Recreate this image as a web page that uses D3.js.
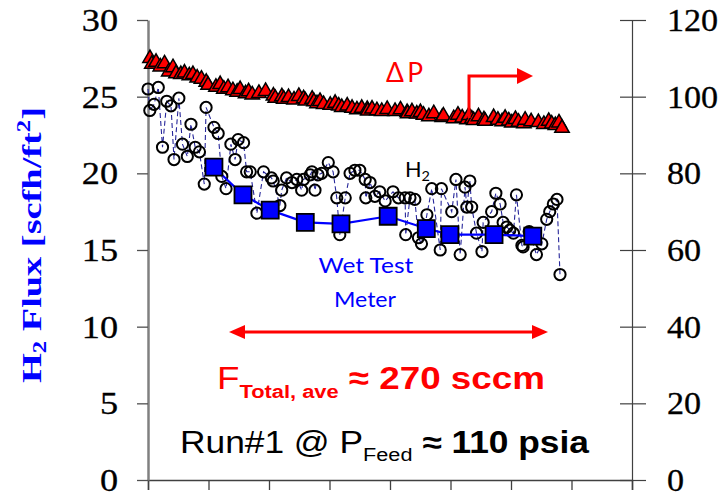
<!DOCTYPE html>
<html><head><meta charset="utf-8">
<script src="https://cdn.jsdelivr.net/npm/d3@7"></script>
<style>body{margin:0;background:#fff}svg{display:block}</style>
</head><body>
<svg id="c" width="722" height="497"></svg>
<script>
// ---------- data ----------
const xTicks = [0,1,2,3,4,5,6,7,8];
const leftTicks = [0,5,10,15,20,25,30];
const rightTicks = [0,20,40,60,80,100,120];

const h2Time = [0.00,0.03,0.10,0.17,0.24,0.31,0.38,0.43,0.51,0.57,
0.65,0.71,0.78,0.85,0.93,0.96,1.09,1.16,1.22,1.29,
1.37,1.44,1.49,1.58,1.63,1.69,1.80,1.91,2.04,2.07,
2.18,2.21,2.29,2.38,2.46,2.54,2.57,2.68,2.71,2.76,
2.81,2.87,2.98,3.06,3.12,3.17,3.26,3.34,3.42,3.50,
3.59,3.60,3.67,3.75,3.83,3.92,4.05,4.14,4.25,4.26,
4.33,4.41,4.47,4.52,4.61,4.69,4.83,4.85,5.02,5.09,
5.16,5.24,5.27,5.32,5.35,5.43,5.52,5.54,5.68,5.75,
5.82,5.87,5.93,5.98,6.04,6.09,6.18,6.20,6.30,6.42,
6.51,6.59,6.64,6.70,6.76,6.81];

const h2Flux = [25.5,24.1,24.5,25.6,21.7,24.7,24.4,20.9,24.9,21.9,
21.1,23.2,21.7,21.4,19.3,24.3,23.0,22.6,19.8,19.0,
21.9,20.9,22.2,22.0,20.1,20.1,17.4,20.1,19.7,19.5,
17.9,18.9,19.7,19.4,19.6,18.9,19.6,19.9,20.1,18.9,
19.9,20.0,20.7,20.1,18.4,16.0,18.4,20.0,20.2,20.2,
19.6,18.4,19.4,18.5,18.8,18.2,18.8,18.4,18.4,16.0,
18.4,18.3,15.8,15.4,17.3,19.0,15.0,19.0,17.5,19.6,
14.7,19.1,17.8,19.5,17.8,16.1,14.9,16.8,17.5,18.7,
18.0,16.8,16.5,16.3,16.1,18.6,15.3,15.2,16.2,14.7,
15.4,17.0,17.5,18.0,18.3,13.4];

const dP = [110.0,108.5,109.0,107.8,108.6,106.5,107.6,106.0,105.8,106.2,
105.5,105.8,104.9,104.6,103.8,103.0,102.5,103.2,102.0,102.4,
101.6,101.2,101.9,100.8,101.3,100.5,100.9,101.4,100.2,99.6,
100.0,99.4,99.8,99.2,100.1,99.5,98.9,99.4,98.7,98.2,
98.8,98.0,97.8,98.3,97.6,97.2,97.6,97.0,96.6,97.0,
96.7,96.3,96.8,96.4,96.2,96.7,96.2,96.6,95.9,95.6,
96.1,95.5,95.9,95.2,94.8,95.6,94.6,95.0,94.3,95.2,
94.5,94.0,95.1,94.2,93.8,94.8,94.0,93.6,94.6,93.9,
93.5,94.4,93.7,93.2,94.1,93.4,93.0,93.9,93.5,93.3,
92.8,93.6,92.9,92.5,93.2,91.8];

const wtmTime = [1.09,1.57,2.02,2.60,3.19,3.97,4.60,4.99,5.72,6.36];
const wtmFlux = [20.4,18.6,17.6,16.8,16.7,17.2,16.4,16.0,16.0,15.9];

// ---------- chart ----------
const svg = d3.select("#c");
const x = d3.scaleLinear().domain([0,8]).range([148,632]);
const yL = d3.scaleLinear().domain([0,30]).range([480,20]);
const yR = d3.scaleLinear().domain([0,120]).range([480,20]);

const serif = "'Liberation Serif','Times New Roman',serif";
const sans = "'Liberation Sans',Arial,sans-serif";
const cal = "Lato,'Open Sans',sans-serif";

function fit(t, left, baseline, target, anchor) {
  const w = t.node().getBBox().width;
  const s = target / w;
  let lx = left;
  if (anchor === "middle") lx = left - target/2;
  if (anchor === "end") lx = left - target;
  t.attr("transform", `translate(${lx},${baseline}) scale(${s},1)`);
}

// bottom axis
const gx = svg.append("g").attr("transform","translate(0,480)")
  .call(d3.axisBottom(x).tickValues(xTicks).tickSize(10).tickFormat(""));
gx.select(".domain").attr("stroke","#404040").attr("stroke-width",1.5);
gx.selectAll(".tick line").attr("stroke","#404040").attr("stroke-width",1.3);

// left axis
const gl = svg.append("g").attr("transform","translate(148,0)")
  .call(d3.axisLeft(yL).tickValues(leftTicks).tickSize(11).tickSizeOuter(0));
gl.select(".domain").attr("stroke","#808080").attr("stroke-width",2.5);
gl.selectAll(".tick line").attr("stroke","#505050").attr("stroke-width",1.3);
gl.selectAll(".tick text").attr("font-family",serif).attr("font-size",31)
  .attr("fill","#000").attr("x",0).attr("dy",0).attr("y",0)
  .attr("dominant-baseline","central").attr("stroke","#000").attr("stroke-width",0.3)
  .attr("transform","translate(-30,0) scale(1.17,1)");

// right axis
const gr = svg.append("g").attr("transform","translate(632,0)")
  .call(d3.axisRight(yR).tickValues(rightTicks).tickSize(14).tickSizeOuter(0));
gr.select(".domain").attr("stroke","#404040").attr("stroke-width",1.2);
gr.selectAll(".tick line").attr("x1",-12).attr("stroke","#404040").attr("stroke-width",1.2);
gr.selectAll(".tick text").attr("font-family",serif).attr("font-size",31)
  .attr("fill","#000").attr("x",0).attr("dy",0).attr("y",0)
  .attr("text-anchor","start").attr("dominant-baseline","central")
  .attr("stroke","#000").attr("stroke-width",0.3)
  .attr("transform","translate(35,0) scale(1.1,1)");

// H2 dashed connecting line + circles
const h2 = h2Time.map((t,i)=>({t, v:h2Flux[i]}));
svg.append("path").datum(h2)
  .attr("d", d3.line().x(d=>x(d.t)).y(d=>yL(d.v)))
  .attr("fill","none").attr("stroke","#26269a").attr("stroke-width",1.1)
  .attr("stroke-dasharray","5,3");
svg.append("g").selectAll("circle").data(h2).join("circle")
  .attr("cx",d=>x(d.t)).attr("cy",d=>yL(d.v)).attr("r",5.6)
  .attr("fill","none").attr("stroke","#000").attr("stroke-width",2);

// wet test meter
const wtm = wtmTime.map((t,i)=>({t, v:wtmFlux[i]}));
svg.append("path").datum(wtm)
  .attr("d", d3.line().x(d=>x(d.t)).y(d=>yL(d.v)))
  .attr("fill","none").attr("stroke","#0000ff").attr("stroke-width",2.2);
svg.append("g").selectAll("path").data(wtm).join("path")
  .attr("transform",d=>`translate(${x(d.t)},${yL(d.v)})`)
  .attr("d", d3.symbol(d3.symbolSquare, 289)())
  .attr("fill","#0000ff").attr("stroke","#000").attr("stroke-width",1.8);

// delta P triangles
const dp = h2Time.map((t,i)=>({t, v:dP[i]}));
svg.append("g").selectAll("path").data(dp).join("path")
  .attr("transform",d=>`translate(${x(d.t)+2},${yR(d.v)})`)
  .attr("d", d3.symbol(d3.symbolTriangle, 90)())
  .attr("fill","#ff0000").attr("stroke","#000").attr("stroke-width",1.5);

// y title
const yt = svg.append("text").attr("font-family",serif).attr("font-weight","bold")
  .attr("font-size",28).attr("fill","#0000ff");
yt.append("tspan").text("H");
yt.append("tspan").attr("font-size",18).attr("dy",5).text("2");
yt.append("tspan").attr("dy",-5).text(" Flux [scfh/ft");
yt.append("tspan").attr("font-size",18).attr("dy",-11).text("2");
yt.append("tspan").attr("dy",11).text("]");
{
  const w = yt.node().getBBox().width;
  const s = 276 / w;
  yt.attr("transform", `translate(41,245) rotate(-90) translate(${-138},0) scale(${s},1)`);
}

// ΔP label + arrow
const dpt = svg.append("text").attr("font-family",cal).attr("font-size",27)
  .attr("fill","#ff0000").text("Δ\u2009P");
fit(dpt, 386, 82, 37, "start");
svg.append("path").attr("d","M469,118V76H519").attr("fill","none")
  .attr("stroke","#ff0000").attr("stroke-width",3);
svg.append("path").attr("d","M517,68L533,76L517,84Z").attr("fill","#ff0000");

// H2 label
const h2t = svg.append("text").attr("font-family",cal).attr("font-size",21).attr("fill","#000");
h2t.append("tspan").text("H");
h2t.append("tspan").attr("font-size",14).attr("dy",4).text("2");
fit(h2t, 405, 177, 25, "start");

// Wet Test Meter
const wt1 = svg.append("text").attr("font-family",cal).attr("font-size",22)
  .attr("fill","#0000ff").text("Wet Test");
fit(wt1, 366, 273, 95, "middle");
const wt2 = svg.append("text").attr("font-family",cal).attr("font-size",22)
  .attr("fill","#0000ff").text("Meter");
fit(wt2, 365, 307, 62, "middle");

// double arrow
svg.append("line").attr("x1",240).attr("x2",537).attr("y1",332).attr("y2",332)
  .attr("stroke","#ff0000").attr("stroke-width",3);
svg.append("path").attr("d","M229,332L245,325L245,339Z").attr("fill","#ff0000");
svg.append("path").attr("d","M548,332L532,325L532,339Z").attr("fill","#ff0000");

// F total text
const ft = svg.append("text").attr("font-family",sans).attr("font-size",32).attr("fill","#ff0000");
ft.append("tspan").text("F");
ft.append("tspan").attr("font-size",19).attr("font-weight","bold").attr("dy",9).text("Total, ave");
ft.append("tspan").attr("font-weight","bold").attr("dy",-9).text(" ≈ 270 sccm");
fit(ft, 217, 389, 328, "start");

// Run text
const rt = svg.append("text").attr("font-family",sans).attr("font-size",31).attr("fill","#000");
rt.append("tspan").text("Run#1 @ P");
rt.append("tspan").attr("font-size",19).attr("dy",8).text("Feed");
rt.append("tspan").attr("font-weight","bold").attr("dy",-8).text(" ≈ 110 psia");
fit(rt, 180, 453, 410, "start");
</script>
</body></html>
